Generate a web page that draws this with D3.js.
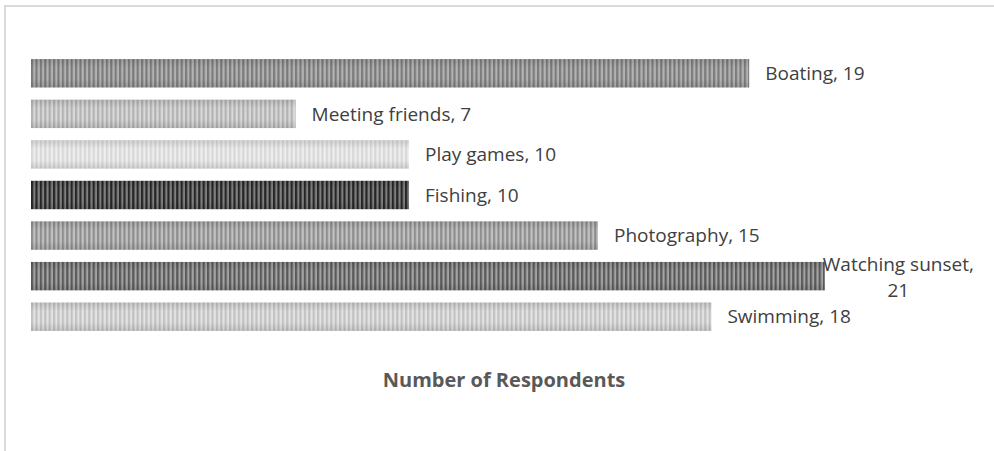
<!DOCTYPE html>
<html>
<head>
<meta charset="utf-8">
<script src="https://cdn.jsdelivr.net/npm/d3@7"></script>
<style>
  body { margin: 0; background: #fff; }
  svg { display: block; font-family: "Open Sans", sans-serif; }
</style>
</head>
<body>
<div id="chart"></div>
<script>
// data, top to bottom as shown
var categories = ["Boating", "Meeting friends", "Play games", "Fishing", "Photography", "Watching sunset", "Swimming"];
var values = [19, 7, 10, 10, 15, 21, 18];
// stripe shades for each bar: [dark, light]
var shades = [
  ["#7b7b7b", "#b3b3b3"],
  ["#b3b3b3", "#d9d9d9"],
  ["#d8d8d8", "#eeeeee"],
  ["#262626", "#7f7f7f"],
  ["#8e8e8e", "#c2c2c2"],
  ["#5a5a5a", "#a3a3a3"],
  ["#c2c2c2", "#e3e3e3"]
];
var axisTitle = "Number of Respondents";

var width = 994, height = 451;
var x0 = 31, pxPerUnit = 37.8;

var svg = d3.select("#chart").append("svg")
  .attr("width", width)
  .attr("height", height);

// chart border (only top and left visible in the crop)
svg.append("path")
  .attr("d", "M5," + height + "V6H" + width)
  .attr("fill", "none")
  .attr("stroke", "#d9d9d9")
  .attr("stroke-width", 2);

var x = d3.scaleLinear()
  .domain([0, 21])
  .range([x0, x0 + 21 * pxPerUnit]);

var y = d3.scaleBand()
  .domain(categories)
  .range([53, 337])
  .paddingInner(0.3)
  .paddingOuter(0.15);

var defs = svg.append("defs");

// soft darkening toward top and bottom of each bar
var grad = defs.append("linearGradient")
  .attr("id", "shade")
  .attr("x1", 0).attr("y1", 0).attr("x2", 0).attr("y2", 1);
grad.append("stop").attr("offset", "0%").attr("stop-color", "#000").attr("stop-opacity", 0.12);
grad.append("stop").attr("offset", "30%").attr("stop-color", "#000").attr("stop-opacity", 0);
grad.append("stop").attr("offset", "70%").attr("stop-color", "#000").attr("stop-opacity", 0);
grad.append("stop").attr("offset", "100%").attr("stop-color", "#000").attr("stop-opacity", 0.12);

shades.forEach(function(s, i) {
  var p = defs.append("pattern")
    .attr("id", "stripe" + i)
    .attr("patternUnits", "userSpaceOnUse")
    .attr("x", x0)
    .attr("width", 4.4).attr("height", 10);
  p.append("rect").attr("width", 4.4).attr("height", 10).attr("fill", s[1]);
  p.append("rect").attr("width", 2.2).attr("height", 10).attr("fill", s[0]);
});

var bars = svg.selectAll("g.bar")
  .data(categories)
  .enter().append("g")
  .attr("class", "bar");

bars.append("rect")
  .attr("x", x(0))
  .attr("y", function(d) { return y(d); })
  .attr("width", function(d, i) { return x(values[i]) - x(0); })
  .attr("height", y.bandwidth())
  .attr("fill", function(d, i) { return "url(#stripe" + i + ")"; });

bars.append("rect")
  .attr("x", x(0))
  .attr("y", function(d) { return y(d); })
  .attr("width", function(d, i) { return x(values[i]) - x(0); })
  .attr("height", y.bandwidth())
  .attr("fill", "url(#shade)");

// data labels: "Category, value", wrapped if it runs past the chart edge
bars.append("text")
  .attr("fill", "#404040")
  .attr("font-size", 19)
  .each(function(d, i) {
    var t = d3.select(this);
    var label = d + ", " + values[i];
    var lx = x(values[i]) + 16;
    var cy = y(d) + y.bandwidth() / 2;
    t.text(label).attr("x", lx).attr("y", cy).attr("dy", "0.35em");
    if (lx + this.getComputedTextLength() > width - 4) {
      var cut = label.lastIndexOf(" ");
      var lines = [label.slice(0, cut), label.slice(cut + 1)];
      t.text(null);
      var first = t.append("tspan").text(lines[0]);
      var w = first.node().getComputedTextLength();
      var cx = x(values[i]) - 2 + w / 2;
      first.attr("x", cx).attr("y", cy - 12).attr("dy", "0.35em");
      t.append("tspan").text(lines[1]).attr("x", cx).attr("y", cy + 14).attr("dy", "0.35em");
      t.attr("text-anchor", "middle");
    }
  });

svg.append("text")
  .attr("x", 504)
  .attr("y", 380)
  .attr("dy", "0.35em")
  .attr("text-anchor", "middle")
  .attr("font-size", 20)
  .attr("font-weight", "bold")
  .attr("fill", "#595959")
  .text(axisTitle);
</script>
</body>
</html>
